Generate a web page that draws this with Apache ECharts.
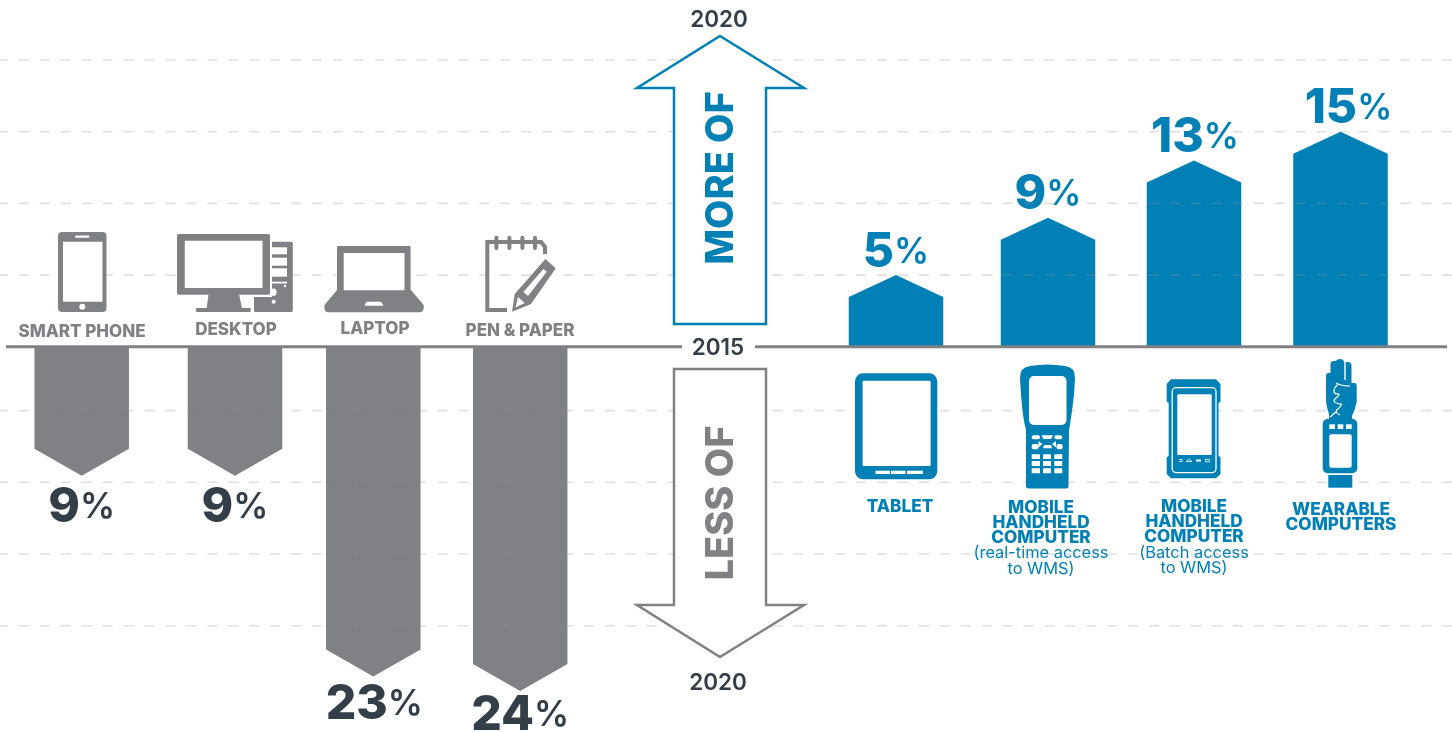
<!DOCTYPE html>
<html>
<head>
<meta charset="utf-8">
<style>html,body{margin:0;padding:0;background:#fff}#chart{width:1452px;height:732px}</style>
<script src="https://cdn.jsdelivr.net/npm/echarts@6/dist/echarts.min.js"></script>
</head>
<body>
<div id="chart"></div>
<script>
// Survey results: share of respondents expecting less / more use of each device by 2020
const lessCategories = ['SMART PHONE', 'DESKTOP', 'LAPTOP', 'PEN & PAPER'];
const lessValues = [-9, -9, -23, -24];
const moreCategories = ['TABLET', 'MOBILE HANDHELD COMPUTER (real-time access to WMS)', 'MOBILE HANDHELD COMPUTER (Batch access to WMS)', 'WEARABLE COMPUTERS'];
const moreValues = [5, 9, 13, 15];
const yearLabels = ['2020', '2015', '2020'];
const arrowLabels = ['MORE OF', 'LESS OF'];
const guideLevels = [20, 15, 10, 5, -4.45, -9.45, -14.45, -19.45];

// Horizontal placement of the columns along the page-wide x axis
const lessSlots = [81.7, 235, 373.3, 520.2];
const moreSlots = [896, 1048, 1194, 1340.5];
// Small per-column label offsets so the long columns keep their labels on the page
const labelShift = [0, 0, 1, 0, 0, 0, 1, 8];
const labelLift = [0, 0, 4, 7, 0, 0, 0, 0];

const GREY = '#808185', BLUE = '#0180b5', INK = '#333f48', WHITE = '#ffffff';
const FONT = 'Inter, "Noto Sans", sans-serif';
const BAR_W = 94.5, HEAD_UP = 22, HEAD_DOWN = 27;

const barData = [
  ...lessValues.map((v, i) => [lessSlots[i], v]),
  ...moreValues.map((v, i) => [moreSlots[i], v])
];

function renderColumn(params, api) {
  const x = api.value(0), v = api.value(1);
  const base = api.coord([x, 0]), tip = api.coord([x, v]);
  const up = v > 0;
  const half = BAR_W / 2, cx = base[0];
  const shoulder = up ? tip[1] + HEAD_UP : tip[1] - HEAD_DOWN;
  const fill = up ? BLUE : GREY, ink = up ? BLUE : INK;
  return {
    type: 'group',
    children: [
      {
        type: 'polygon',
        shape: { points: [[cx - half, base[1]], [cx - half, shoulder], [cx, tip[1]], [cx + half, shoulder], [cx + half, base[1]]] },
        style: { fill }
      },
      {
        type: 'text',
        style: {
          x: cx + labelShift[params.dataIndex],
          y: (up ? tip[1] + 3 : tip[1] + 6) - labelLift[params.dataIndex],
          align: 'center',
          verticalAlign: up ? 'bottom' : 'top',
          text: '{n|' + Math.abs(v) + '}{p|%}',
          rich: {
            n: { fontFamily: FONT, fontSize: 48, fontWeight: 800, fill: ink, lineHeight: 52 },
            p: { fontFamily: FONT, fontSize: 35, fontWeight: 600, fill: ink, lineHeight: 52 }
          }
        }
      }
    ]
  };
}

function renderGuide(params, api) {
  const y = api.coord([0, api.value(0)])[1];
  return {
    type: 'line',
    shape: { x1: -2, y1: y, x2: 1452, y2: y },
    style: { stroke: 'rgba(143,143,143,0.28)', lineWidth: 1.6, lineDash: [10, 10.93] }
  };
}

function renderBaseline(params, api) {
  const a = api.coord([api.value(0), 0]), b = api.coord([api.value(1), 0]);
  return {
    type: 'line',
    shape: { x1: a[0], y1: a[1], x2: b[0], y2: b[1] },
    style: { stroke: GREY, lineWidth: 3 }
  };
}

// Helpers for the decorative pictograms and captions drawn above the plot
let order = 0;
const g = [];
const put = (el) => { el.z = 10; el.z2 = order++; el.silent = true; g.push(el); };
const rect = (x0, y0, x1, y1, fill, r) => put({ type: 'rect', shape: { x: x0, y: y0, width: x1 - x0, height: y1 - y0, r: r || 0 }, style: { fill } });
const poly = (points, fill) => put({ type: 'polygon', shape: { points }, style: { fill } });
const dot = (cx, cy, r, fill) => put({ type: 'circle', shape: { cx, cy, r }, style: { fill } });
const path = (d, style) => {
  const name = 'iconPath' + order;
  echarts.graphic.registerShape(name, echarts.graphic.extendPath(d, {}));
  put({ type: name, style });
};
const outline = (points, stroke, lw) => put({ type: 'polyline', shape: { points }, style: { stroke, lineWidth: lw, fill: 'none', lineJoin: 'miter' } });
const caption = (text, x, y, size, weight, fill) => put({
  type: 'text', x, y,
  style: { text, x: 0, y: 0, align: 'center', verticalAlign: 'middle', fontFamily: FONT, fontSize: size, fontWeight: weight, fill }
});

// Arrows
function arrow(points, stroke, lw) {
  put({ type: 'polygon', shape: { points }, style: { fill: WHITE, stroke, lineWidth: lw, lineJoin: 'miter', miterLimit: 6 } });
}
arrow([[720, 36], [804, 88], [766, 88], [766, 324], [674, 324], [674, 88], [637, 88]], BLUE, 2.5);
arrow([[720, 657], [804, 605], [766, 605], [766, 369], [674, 369], [674, 605], [637, 605]], GREY, 2.5);
put({ type: 'text', x: 722, y: 178, rotation: Math.PI / 2, style: { text: arrowLabels[0], x: 0, y: 0, align: 'center', verticalAlign: 'middle', fontFamily: FONT, fontSize: 38, fontWeight: 800, fill: BLUE } });
put({ type: 'text', x: 721.5, y: 503, rotation: Math.PI / 2, style: { text: arrowLabels[1], x: 0, y: 0, align: 'center', verticalAlign: 'middle', fontFamily: FONT, fontSize: 38, fontWeight: 800, fill: GREY } });
caption(yearLabels[0], 719, 20, 22.5, 600, INK);
caption(yearLabels[1], 718, 348, 22.5, 600, INK);
caption(yearLabels[2], 718, 683, 22.5, 600, INK);

// Smart phone
rect(58, 232, 106.5, 312, GREY, 4);
rect(63, 241.7, 102.5, 301.7, WHITE);
rect(75, 235.5, 89.5, 237.7, WHITE, 1);
dot(82.3, 306.8, 3, WHITE);

// Desktop
rect(254, 241.7, 292.8, 312, GREY, 1.5);
rect(176, 232, 272, 297, WHITE);
rect(177, 234, 270, 294.7, GREY, 2);
rect(184.8, 240.7, 262.5, 288, WHITE);
poly([[208.6, 294], [239, 294], [242, 308.5], [206.6, 308.5]], GREY);
rect(196, 308, 250.7, 312, GREY, 1);
rect(270, 247.3, 287, 254.3, WHITE);
rect(270, 257.7, 287, 265.7, WHITE);
rect(270, 268.3, 287, 276.7, WHITE);
rect(270, 281.7, 287, 283.5, WHITE);
dot(285, 286, 1.2, WHITE);
put({ type: 'ellipse', shape: { cx: 273.6, cy: 292.3, rx: 3, ry: 3.8 }, style: { fill: WHITE } });
dot(273.6, 301.7, 2, WHITE);

// Laptop
rect(337, 246, 410.6, 298, GREY, 1);
rect(343.7, 253, 404.5, 290.3, WHITE);
path('M337 290 L343 290 L343 296 L405 296 L405 290 L411 290 L423.6 305 Q424.5 312 420 312.3 L328 312.3 Q323.5 312 324.5 305 Z', { fill: GREY });
poly([[366.5, 301.7], [381, 301.7], [383.5, 305.7], [364.3, 305.7]], WHITE);

// Pen and paper
outline([[507, 310], [487.3, 310], [487.3, 242], [541, 242], [545, 247], [545, 254]], GREY, 4);
[496.4, 509.4, 522.4, 535].forEach((x) => rect(x - 2, 235.7, x + 2, 250, GREY, 2));
poly([[545.4, 259], [555.7, 268.3], [531, 304], [512, 311.7], [514.7, 294]], GREY);
poly([[543.4, 269], [546.8, 271.7], [528, 296], [523.4, 292]], WHITE);
poly([[518, 297], [524.7, 303], [515.5, 307.5]], WHITE);

// Tablet
rect(855, 373.3, 937.3, 479.3, BLUE, 8);
rect(862.6, 380.7, 930.6, 466, WHITE, 1);
rect(875.5, 470.7, 890, 474, WHITE);
rect(891, 470.7, 905.5, 474, WHITE);
rect(907, 470.7, 923, 474, WHITE);

// Handheld scanner
path('M1020 378 Q1020 367 1030 366 Q1047 363 1065 366 Q1075 367 1075 378 L1074 395 Q1071 420 1069 430 L1068.5 486 Q1068.5 488.5 1066 488.5 L1029 488.5 Q1026 488.5 1026 486 L1026 430 Q1023 420 1021 395 Z', { fill: BLUE });
rect(1029, 376, 1066.5, 425, WHITE, 5);
[[454.3, 459], [461, 466], [468.3, 473.3]].forEach((row) => {
  [[1031.7, 1040], [1043, 1051], [1054.3, 1062.3]].forEach((col) => rect(col[0], row[0], col[1], row[1], WHITE, 0.5));
});
rect(1031.7, 435.3, 1040, 439.3, WHITE, 2);
rect(1054.3, 435.3, 1062.3, 439.3, WHITE, 2);
rect(1031.7, 444, 1038.5, 449.3, WHITE, 2);
rect(1056.5, 444, 1062.7, 449.3, WHITE, 2);
poly([[1041.5, 435.3], [1053, 435.3], [1051, 439], [1043.5, 439]], WHITE);
poly([[1044, 445], [1051, 445], [1052, 448.3], [1043, 448.3]], WHITE);
poly([[1038.5, 441], [1042.5, 444], [1038.5, 447.5]], WHITE);
poly([[1056, 441], [1052, 444], [1056, 447.5]], WHITE);

// Rugged touch computer
path('M1171 379.3 L1216 379.3 L1220.5 384 L1220.5 401.7 L1218.5 403 L1218.5 456 L1220.5 457.3 L1220.5 474 L1216 478.3 L1171 478.3 L1166.7 474 L1166.7 457.3 L1168.7 456 L1168.7 403 L1166.7 401.7 L1166.7 384 Z', { fill: BLUE });
rect(1172, 387.3, 1216, 470, BLUE, 4);
put({ type: 'rect', shape: { x: 1172.2, y: 387.6, width: 43.8, height: 85, r: 4 }, style: { fill: 'none', stroke: WHITE, lineWidth: 1.3 } });
rect(1177.3, 394.3, 1211.7, 455, WHITE, 1);
rect(1196, 459.5, 1201, 461.5, WHITE);
put({ type: 'polyline', shape: { points: [[1186, 461.5], [1189, 459], [1192, 461.5], [1186, 461.5]] }, style: { stroke: WHITE, lineWidth: 0.8, fill: 'none' } });
put({ type: 'rect', shape: { x: 1205.5, y: 459.3, width: 4, height: 2.4 }, style: { stroke: WHITE, lineWidth: 0.8, fill: 'none' } });
put({ type: 'polyline', shape: { points: [[1179, 459.5], [1182, 459.5], [1182, 461.5], [1179, 461.5]] }, style: { stroke: WHITE, lineWidth: 0.8, fill: 'none' } });

// Wearable computer on a forearm
path('M1326 376 Q1326 373 1328.5 373 L1330.5 373 L1330.5 364 Q1331 361 1333.5 361 L1336 361 Q1337 359 1340 359 Q1343.5 359 1344 362 L1348 362 Q1351.5 362 1351.5 366 L1351.5 383 L1354.5 383 Q1356.7 383 1356.7 386 L1356.7 402 Q1355 410 1352 416 L1352 419 L1329 419 L1329 414 Q1326 405 1326 400 Z', { fill: BLUE });
path('M1345 360 L1345 380', { stroke: WHITE, lineWidth: 1.4, fill: 'none' });
path('M1336 383 Q1341 386 1350 386 M1338 384 Q1331 391 1336 394 Q1342 393 1336 398 Q1331 402 1339 404 Q1344 403 1339 408 Q1333 412 1340 415 M1337 411 L1330 417', { stroke: WHITE, lineWidth: 1.2, fill: 'none' });
rect(1322.7, 419, 1357.3, 473.3, BLUE, 5);
rect(1329.3, 424.3, 1335, 429, WHITE);
rect(1337.7, 424.3, 1343.3, 429, WHITE);
rect(1346, 424.3, 1351.7, 429, WHITE);
rect(1329.3, 434.3, 1351.7, 467.7, WHITE, 2);
rect(1328.3, 475, 1352.3, 487.7, BLUE);

// Column captions above the bars on the left
const lessCaptionAt = [[82, 332], [236, 330], [375, 328.5], [520, 331]];
lessCategories.forEach((name, i) => caption(name, lessCaptionAt[i][0], lessCaptionAt[i][1], 17, 800, GREY));

// Column captions below the bars on the right
const moreCaptionLines = [
  [['TABLET', 507, 1]],
  [['MOBILE', 507.5, 1], ['HANDHELD', 522.5, 1], ['COMPUTER', 537.5, 1], ['(real-time access', 553, 0], ['to WMS)', 569, 0]],
  [['MOBILE', 506.5, 1], ['HANDHELD', 521.5, 1], ['COMPUTER', 536.5, 1], ['(Batch access', 553, 0], ['to WMS)', 568, 0]],
  [['WEARABLE', 509.5, 1], ['COMPUTERS', 524.5, 1]]
];
const moreCaptionX = [900, 1041, 1194, 1341];
moreCaptionLines.forEach((lines, i) => lines.forEach((l) => {
  caption(l[0], moreCaptionX[i], l[1], l[2] ? 17.2 : 16.4, l[2] ? 800 : 400, BLUE);
}));

const chart = echarts.init(document.getElementById('chart'), null, { renderer: 'canvas', width: 1452, height: 732 });
chart.setOption({
  animation: false,
  backgroundColor: WHITE,
  grid: { left: 0, width: 1452, top: 60, height: 645.3 },
  xAxis: { type: 'value', min: 0, max: 1452, show: false },
  yAxis: { type: 'value', min: -25, max: 20, interval: 5, show: false },
  series: [
    { type: 'custom', name: 'Responses', coordinateSystem: 'cartesian2d', z: 2, silent: true, clip: false, renderItem: renderColumn, data: barData, encode: { x: 0, y: 1 } },
    { type: 'custom', name: 'Guides', coordinateSystem: 'cartesian2d', z: 3, silent: true, renderItem: renderGuide, data: guideLevels.map((v) => [v]), encode: { y: 0 } },
    { type: 'custom', name: 'Baseline', coordinateSystem: 'cartesian2d', z: 4, silent: true, renderItem: renderBaseline, data: [[6, 682], [755, 1447]], encode: { x: [0, 1] } }
  ],
  graphic: { elements: g }
});
</script>
</body>
</html>
